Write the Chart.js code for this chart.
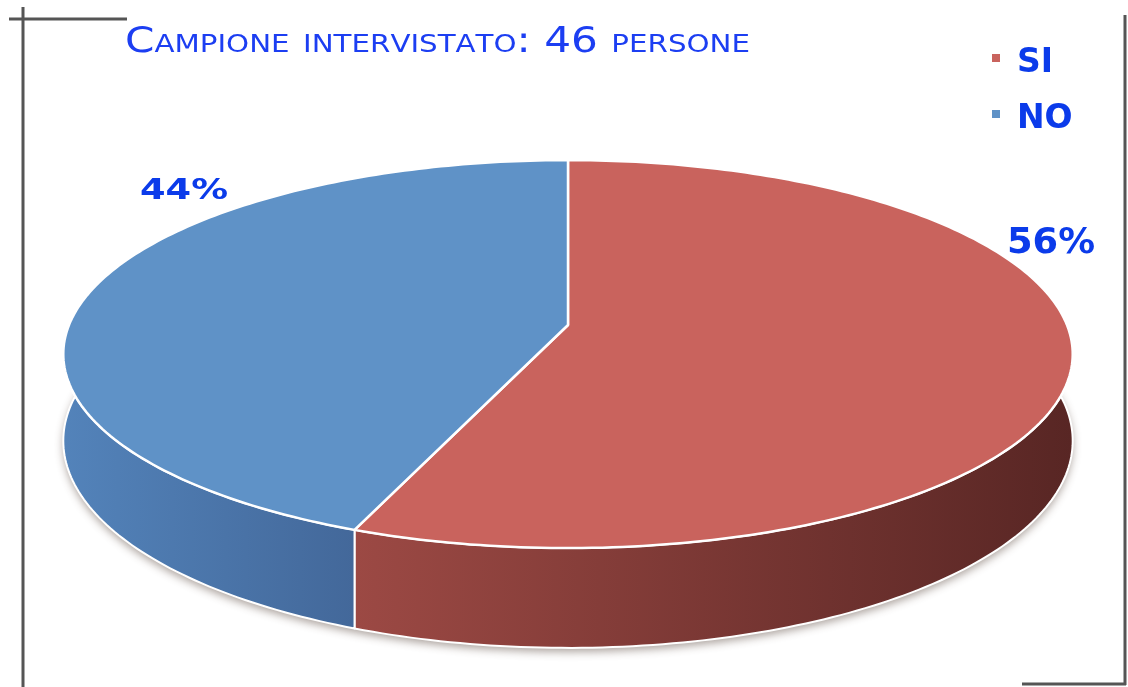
<!DOCTYPE html>
<html lang="it">
<head>
<meta charset="utf-8">
<title>Campione intervistato: 46 persone</title>
<script src="https://cdn.jsdelivr.net/npm/chart.js@4.4.1/dist/chart.umd.min.js"></script>
<style>
  html, body { margin: 0; padding: 0; background: #ffffff; }
  #wrap { position: relative; width: 1128px; height: 687px; }
</style>
</head>
<body>
<div id="wrap"><canvas id="pie" width="1128" height="687"></canvas></div>
<script>
// Survey answers (percent of the 46 people interviewed)
const categories = ['SI', 'NO'];
const percentages = [56, 44];
const titleText = 'Campione intervistato: 46 persone';

// Slice colours: top face, and the left/right ends of the side wall gradient
const topColors = ['#C9635D', '#5F92C7'];
const sideColors = [['#9C4944', '#582624'], ['#5383BA', '#43689A']];

const FONT = '"DejaVu Sans", "Liberation Sans", Arial, sans-serif';
const TEXT_BLUE = '#0B3BEA';

// Tilt of the pie: vertical squash, perspective strength, wall height (all relative to radius)
const view = { squash: 0.38, persp: 0.15, depth: 0.17 };

// Percentage labels, placed relative to the pie centre (x centre, baseline, font size, width)
const labelSpots = [
  { dx: 483, dy: -72, size: 36, width: 88 },
  { dx: -384, dy: -126, size: 29, width: 88 }
];

// Map an angle on the pie's rim to screen space; drop = 0 for the top rim, 1 for the base
function project(arc, angle, drop) {
  const c = Math.cos(angle), s = Math.sin(angle);
  const w = 1 - view.persp * s;
  const R = arc.outerRadius;
  return [arc.x + R * c / w, arc.y + R * (view.squash * s + drop * view.depth) / w];
}

function rim(arc, a0, a1, drop) {
  const n = Math.max(2, Math.ceil(Math.abs(a1 - a0) / (Math.PI / 180)));
  const pts = [];
  for (let i = 0; i <= n; i++) pts.push(project(arc, a0 + (a1 - a0) * i / n, drop));
  return pts;
}

function tracePath(ctx, pts) {
  ctx.moveTo(pts[0][0], pts[0][1]);
  for (let i = 1; i < pts.length; i++) ctx.lineTo(pts[i][0], pts[i][1]);
}

// Bold text squeezed/stretched to a given width, centred on x
function fittedText(ctx, text, x, y, size, width) {
  ctx.font = `bold ${size}px ${FONT}`;
  const m = ctx.measureText(text).width;
  ctx.save();
  ctx.translate(x, y);
  ctx.scale(width / m, 1);
  ctx.textAlign = 'center';
  ctx.textBaseline = 'alphabetic';
  ctx.fillText(text, 0, 0);
  ctx.restore();
}

// Small caps title: capitals full size, lower case drawn as smaller capitals
function smallCapsTitle(ctx, text, x, y, big, small, width) {
  const parts = [...text].map(ch => {
    const lower = ch !== ch.toUpperCase();
    return { ch: ch.toUpperCase(), size: lower ? small : big };
  });
  let total = 0;
  parts.forEach(p => {
    ctx.font = `${p.size}px ${FONT}`;
    p.w = ctx.measureText(p.ch).width;
    total += p.w;
  });
  ctx.save();
  ctx.translate(x, y);
  ctx.scale(width / total, 1);
  ctx.fillStyle = '#1C3EF2';
  ctx.textAlign = 'left';
  ctx.textBaseline = 'alphabetic';
  let cur = 0;
  parts.forEach(p => {
    ctx.font = `${p.size}px ${FONT}`;
    ctx.fillText(p.ch, cur, 0);
    cur += p.w;
  });
  ctx.restore();
}

const pie3d = {
  id: 'pie3d',
  beforeDatasetsDraw(chart) {
    const ctx = chart.ctx;
    const arcs = chart.getDatasetMeta(0).data;
    if (!arcs.length) return;
    const ref = arcs[0];

    // soft shadow under the base
    ctx.save();
    ctx.beginPath();
    tracePath(ctx, rim(ref, 0, Math.PI * 2, 1));
    ctx.closePath();
    ctx.shadowColor = 'rgba(70, 50, 40, 0.45)';
    ctx.shadowBlur = 9;
    ctx.shadowOffsetY = 4;
    ctx.fillStyle = '#777';
    ctx.fill();
    ctx.restore();

    // side walls
    arcs.forEach((arc, i) => {
      const top = rim(arc, arc.startAngle, arc.endAngle, 0);
      const base = rim(arc, arc.startAngle, arc.endAngle, 1);
      const span = arc.endAngle - arc.startAngle;
      const front = base.filter((p, k) => Math.sin(arc.startAngle + span * k / (base.length - 1)) >= 0);
      const xs = (front.length ? front : base).map(p => p[0]);
      const g = ctx.createLinearGradient(Math.min(...xs), 0, Math.max(...xs), 0);
      g.addColorStop(0, sideColors[i][0]);
      g.addColorStop(1, sideColors[i][1]);
      ctx.save();
      ctx.beginPath();
      tracePath(ctx, top.concat(base.slice().reverse()));
      ctx.closePath();
      ctx.fillStyle = g;
      ctx.fill();
      ctx.strokeStyle = '#ffffff';
      ctx.lineWidth = 2;
      ctx.lineJoin = 'round';
      ctx.stroke();
      ctx.restore();
    });

    // top faces
    arcs.forEach(arc => {
      const o = arc.options;
      ctx.save();
      ctx.beginPath();
      ctx.moveTo(arc.x, arc.y);
      tracePath(ctx, rim(arc, arc.startAngle, arc.endAngle, 0));
      ctx.lineTo(arc.x, arc.y);
      ctx.closePath();
      ctx.fillStyle = o.backgroundColor;
      ctx.fill();
      ctx.strokeStyle = o.borderColor;
      ctx.lineWidth = o.borderWidth;
      ctx.lineJoin = 'round';
      ctx.stroke();
      ctx.restore();
    });
    return false;
  },
  afterDraw(chart) {
    const ctx = chart.ctx;
    const arcs = chart.getDatasetMeta(0).data;

    // percentage labels
    ctx.fillStyle = TEXT_BLUE;
    arcs.forEach((arc, i) => {
      const s = labelSpots[i];
      fittedText(ctx, `${percentages[i]}%`, arc.x + s.dx, arc.y + s.dy, s.size, s.width);
    });

    // legend
    categories.forEach((name, i) => {
      const y = 72 + i * 56;
      ctx.fillStyle = topColors[i];
      ctx.fillRect(992, y - 18, 8, 8);
      ctx.fillStyle = TEXT_BLUE;
      ctx.font = `bold 33px ${FONT}`;
      ctx.textAlign = 'left';
      ctx.fillText(name, 1017, y);
    });

    smallCapsTitle(ctx, titleText, 125, 52, 36, 25, 625);

    // corner frame lines
    ctx.save();
    ctx.strokeStyle = '#555555';
    ctx.lineWidth = 3;
    ctx.beginPath();
    ctx.moveTo(9, 19); ctx.lineTo(127, 19);
    ctx.moveTo(23, 7); ctx.lineTo(23, 687);
    ctx.moveTo(1125, 15); ctx.lineTo(1125, 685);
    ctx.moveTo(1022, 684); ctx.lineTo(1126, 684);
    ctx.stroke();
    ctx.restore();
  }
};

new Chart(document.getElementById('pie'), {
  type: 'pie',
  data: {
    labels: categories,
    datasets: [{
      data: percentages,
      backgroundColor: topColors,
      borderColor: '#ffffff',
      borderWidth: 2.5,
      radius: 499
    }]
  },
  options: {
    responsive: false,
    animation: false,
    events: [],
    layout: { padding: { left: 8, right: 0, top: 0, bottom: 37 } },
    plugins: {
      legend: { display: false },
      tooltip: { enabled: false },
      title: { display: false }
    }
  },
  plugins: [pie3d]
});
</script>
</body>
</html>
